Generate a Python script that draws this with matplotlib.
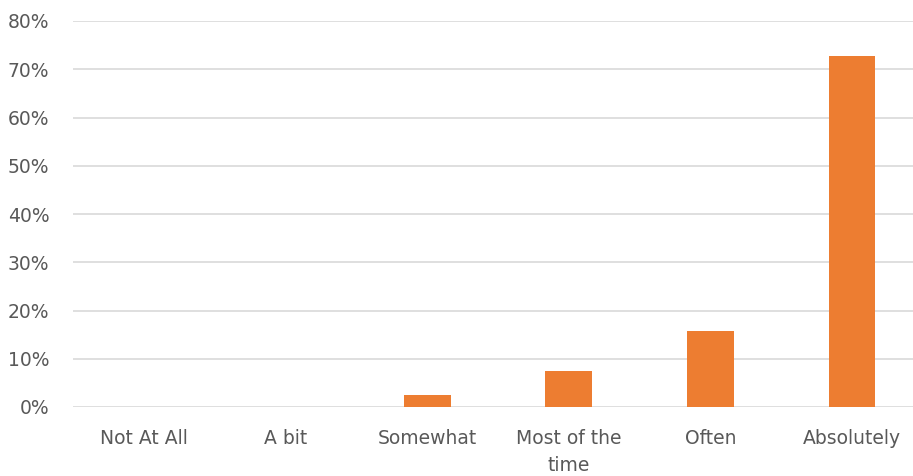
import numpy as np
import matplotlib.pyplot as plt
from matplotlib.ticker import PercentFormatter

plt.rcParams['font.family'] = ['DejaVu Sans']

categories = ['Not At All', 'A bit', 'Somewhat', 'Most of the\ntime', 'Often', 'Absolutely']
shares = [0.0, 0.0, 0.025, 0.075, 0.158, 0.727]
yticks = [0.0, 0.1, 0.2, 0.3, 0.4, 0.5, 0.6, 0.7, 0.8]

fig = plt.figure(figsize=(9.13, 4.76), dpi=100)
ax = fig.add_axes([73 / 913, 69 / 476, 840 / 913, 386 / 476])

x = np.arange(len(categories))
ax.bar(x, shares, width=0.33, color='#ED7D31', zorder=3)

ax.set_xlim(-0.5, 5.43)
ax.set_ylim(0, 0.8)
ax.set_yticks(yticks)
ax.yaxis.set_major_formatter(PercentFormatter(1.0, decimals=0))
ax.set_xticks(x)
ax.set_xticklabels(categories, linespacing=1.55)

ax.grid(axis='y', color='#d9d9d9', linewidth=1.2, zorder=0)
for s in ax.spines.values():
    s.set_visible(False)
ax.tick_params(axis='both', length=0, labelsize=13.5, colors='#595959')
ax.tick_params(axis='y', pad=17)
ax.tick_params(axis='x', pad=16)

fig.savefig('out.png', dpi=100)
